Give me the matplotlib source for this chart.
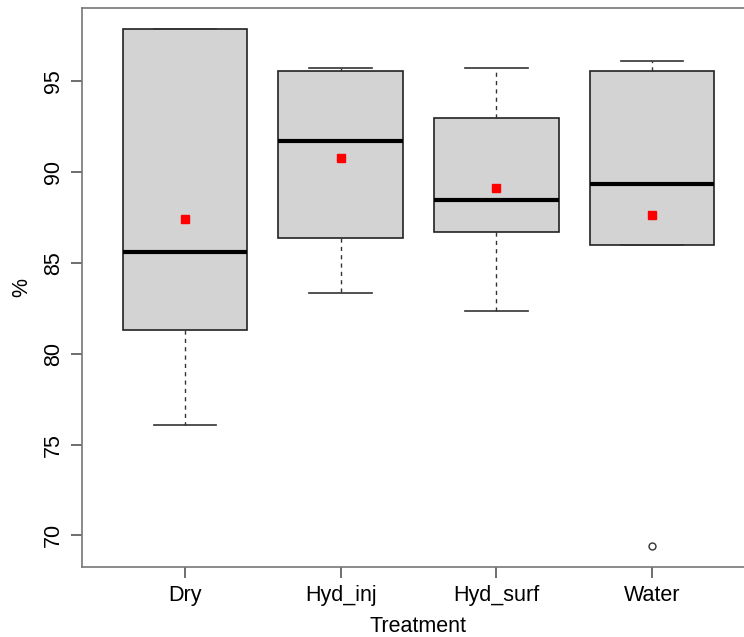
import matplotlib.pyplot as plt
import numpy as np

plt.rcParams['font.family'] = ['Liberation Sans', 'DejaVu Sans']

# ------------------------------------------------------------
# Data
# ------------------------------------------------------------
treatments = ["Dry", "Hyd_inj", "Hyd_surf", "Water"]
whisker_lo = [76.1, 83.35, 82.35, 86.0]
q1 = [81.3, 86.4, 86.7, 86.0]
medians = [85.6, 91.7, 88.45, 89.35]
q3 = [97.9, 95.55, 93.0, 95.55]
whisker_hi = [97.9, 95.75, 95.75, 96.1]
means = [87.4, 90.8, 89.15, 87.65]
outliers = [[], [], [], [69.4]]

# ------------------------------------------------------------
# Plot
# ------------------------------------------------------------
W, H = 744, 637
fig = plt.figure(figsize=(W / 100, H / 100), dpi=100)
ax = fig.add_axes([82 / W, 70 / H, (755 - 82) / W, (567 - 8) / H])

stats = []
for i, name in enumerate(treatments):
    stats.append(dict(label=name, whislo=whisker_lo[i], q1=q1[i], med=medians[i],
                      q3=q3[i], whishi=whisker_hi[i], fliers=outliers[i]))

pos = np.arange(1, len(treatments) + 1)
ax.bxp(stats, positions=pos, widths=0.8, patch_artist=True, showfliers=True,
       boxprops=dict(facecolor="#d3d3d3", edgecolor="#222222", linewidth=1.2),
       medianprops=dict(color="black", linewidth=3),
       whiskerprops=dict(color="#333333", linestyle=(0, (3, 3)), linewidth=1),
       capprops=dict(color="#333333", linewidth=1.2),
       capwidths=0.4,
       flierprops=dict(marker="o", markerfacecolor="white", markeredgecolor="#333333",
                       markersize=5, markeredgewidth=1))

ax.plot(pos, means, linestyle="none", marker="s", color="red", markersize=5.5, zorder=5)

# R-like extents (4% padding)
ymin = min(min(whisker_lo), min(sum(outliers, [])))
ymax = max(whisker_hi)
pad = 0.04 * (ymax - ymin)
ax.set_ylim(ymin - pad, ymax + pad)
ax.set_xlim(0.34, 4.66)

ax.set_yticks([70, 75, 80, 85, 90, 95])
ax.set_yticklabels(["70", "75", "80", "85", "90", "95"], rotation=90, va="center")
ax.set_xticks(pos)
ax.set_xticklabels(treatments)
ax.tick_params(axis="both", labelsize=15.5, color="#555555", length=8, width=1.2,
               direction="out", pad=5)

for s in ax.spines.values():
    s.set_color("#777777")
    s.set_linewidth(1.2)

ax.set_xlabel("Treatment", fontsize=15.5, labelpad=7)
ax.set_ylabel("%", fontsize=15.5, labelpad=8)

fig.savefig("out.png", dpi=100)
